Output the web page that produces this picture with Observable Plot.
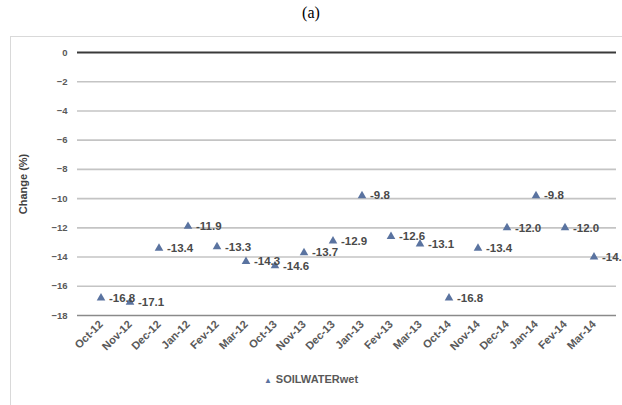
<!DOCTYPE html>
<html>
<head>
<meta charset="utf-8">
<script src="https://cdn.jsdelivr.net/npm/d3@7"></script>
<script src="https://cdn.jsdelivr.net/npm/@observablehq/plot@0.6"></script>
<style>
  html, body { margin: 0; padding: 0; background: #fff; }
  #wrap { position: relative; width: 622px; height: 405px; overflow: hidden; }
  #title { position: absolute; left: 0; top: 4px; width: 622px; text-align: center;
           font-family: "Liberation Serif", "DejaVu Serif", serif; font-size: 16px; color: #000; }
  #frame { position: absolute; left: 10px; top: 36px; width: 640px; height: 400px;
           border: 1px solid #d9d9d9; box-sizing: border-box; }
  #chart { position: absolute; left: 0; top: 0; }
  #legend { position: absolute; left: 0; top: 373px; width: 622px; text-align: center;
            font-family: "Liberation Sans", Arial, sans-serif; font-size: 11px; font-weight: bold; color: #595959; }
  #legend .sym { color: #5a73a0; font-size: 8px; margin-right: 4px; }
</style>
</head>
<body>
<div id="wrap">
  <div id="frame"></div>
  <div id="title">(a)</div>
  <div id="chart"></div>
  <div id="legend"><span class="sym">▲</span>SOILWATERwet</div>
</div>
<script>
const categories = ["Oct-12","Nov-12","Dec-12","Jan-12","Fev-12","Mar-12",
                    "Oct-13","Nov-13","Dec-13","Jan-13","Fev-13","Mar-13",
                    "Oct-14","Nov-14","Dec-14","Jan-14","Fev-14","Mar-14"];
const soilwaterWet = [-16.8, -17.1, -13.4, -11.9, -13.3, -14.3,
                      -14.6, -13.7, -12.9, -9.8, -12.6, -13.1,
                      -16.8, -13.4, -12.0, -9.8, -12.0, -14.0];
const yTicks = [0, -2, -4, -6, -8, -10, -12, -14, -16, -18];

const data = categories.map((c, i) => ({cat: c, v: soilwaterWet[i]}));
const gridTicks = yTicks.filter(t => t !== 0 && t !== -18);

const chart = Plot.plot({
  width: 622,
  height: 405,
  marginTop: 52,
  marginBottom: 90,
  marginLeft: 77,
  marginRight: 6,
  style: {fontFamily: "Liberation Sans, Arial, sans-serif", background: "transparent", overflow: "visible"},
  x: {type: "band", domain: categories, padding: 0},
  y: {domain: [-18, 0], ticks: yTicks},
  marks: [
    Plot.ruleY(gridTicks, {stroke: "#c4c4c4", strokeWidth: 1.6}),
    Plot.ruleY([-18], {stroke: "#8a8a8a", strokeWidth: 1.6}),
    Plot.ruleY([0], {stroke: "#3a3a3a", strokeWidth: 2.2}),
    Plot.axisY({ticks: yTicks, tickSize: 0, tickPadding: 10, fontSize: 9.5, fontWeight: "bold",
                color: "#595959", label: "Change (%)", labelAnchor: "center", labelArrow: "none",
                labelOffset: 58}),
    Plot.axisX({tickSize: 0, tickRotate: -45, tickPadding: 7, fontSize: 11, fontWeight: "bold",
                color: "#595959", label: null}),
    Plot.dot(data, {x: "cat", y: "v", symbol: "triangle", r: 3.2, fill: "#5a73a0", stroke: "none"}),
    Plot.text(data, {x: "cat", y: "v", text: d => d.v.toFixed(1), dx: 8, textAnchor: "start",
                     fontSize: 11.5, fontWeight: "bold", fill: "#4a4a4a"})
  ]
});
document.getElementById("chart").appendChild(chart);
chart.querySelectorAll("text").forEach(t => {
  if (t.textContent === "Change (%)") {
    t.setAttribute("font-size", "11");
    t.setAttribute("font-weight", "bold");
    t.setAttribute("fill", "#404040");
  }
});
</script>
</body>
</html>
